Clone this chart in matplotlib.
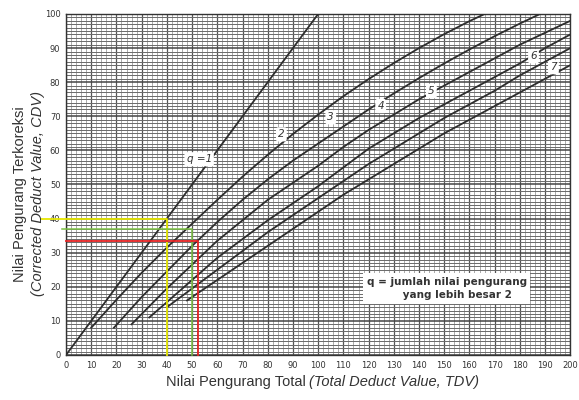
import numpy as np
import matplotlib.pyplot as plt
from matplotlib.ticker import MultipleLocator

# curve readings (TDV, CDV) for each q
q1_x = [0, 100]
q1_y = [0, 100]

q2_x = [10, 20, 30, 40, 50, 60, 70, 80, 90, 100, 110, 120, 130, 140, 150, 160, 166]
q2_y = [8, 16.2, 24.1, 31.5, 38.5, 45.5, 52.3, 58.7, 64.8, 70.5, 75.9, 80.9, 85.6, 90, 94.1, 97.9, 100]

q3_x = [19, 30, 40, 50, 60, 70, 80, 90, 100, 110, 120, 130, 140, 150, 160, 170, 180, 188]
q3_y = [8, 17, 24.5, 32, 39, 45.5, 51.5, 57, 62, 67, 72, 76.7, 81.2, 85.5, 89.6, 93.5, 97.2, 100]

q4_x = [26, 30, 40, 50, 60, 70, 80, 90, 100, 110, 120, 130, 140, 150, 160, 170, 180, 190, 200]
q4_y = [9, 12, 19.5, 26.5, 33.5, 39.5, 45.5, 50.5, 55.5, 61, 66, 70.5, 75, 79, 83, 87, 91, 94.5, 98]

q5_x = [33, 40, 50, 60, 70, 80, 90, 100, 110, 120, 130, 140, 150, 160, 170, 180, 190, 200]
q5_y = [11, 15.5, 22, 28.5, 34, 39.5, 44.5, 49.5, 55, 60.5, 65, 69.5, 73.5, 77.5, 81.5, 85.5, 90, 94]

q6_x = [40, 50, 60, 70, 80, 90, 100, 110, 120, 130, 140, 150, 160, 170, 180, 190, 200]
q6_y = [14, 19.5, 25, 30.5, 36, 41, 46, 51, 56, 60.5, 65, 69.5, 73.5, 77.5, 82, 86, 90]

q7_x = [48, 60, 70, 80, 90, 100, 110, 120, 130, 140, 150, 160, 170, 180, 190, 200]
q7_y = [16, 22, 27, 32, 37, 42, 47, 51.5, 56, 60.5, 65, 69, 73, 77, 81, 85]

curves = [(q1_x, q1_y), (q2_x, q2_y), (q3_x, q3_y), (q4_x, q4_y),
          (q5_x, q5_y), (q6_x, q6_y), (q7_x, q7_y)]

curve_labels = ['q =1', '2', '3', '4', '5', '6', '7']
label_x = [52.8, 85.4, 105, 124.8, 144.9, 185.4, 193.3]
label_y = [57.4, 64.7, 69.7, 73, 77.4, 87.6, 84.4]

# reading lines (TDV, CDV)
yellow_pt = (40, 40)
green_pt = (50, 37)
red_pt = (52.5, 33.5)

fig = plt.figure(figsize=(5.79, 4), dpi=100)
ax = fig.add_axes([0.114, 0.1125, 0.871, 0.8525])

ax.set_xlim(0, 200)
ax.set_ylim(0, 100)
ax.xaxis.set_major_locator(MultipleLocator(10))
ax.yaxis.set_major_locator(MultipleLocator(10))
ax.xaxis.set_minor_locator(MultipleLocator(2))
ax.yaxis.set_minor_locator(MultipleLocator(1))

# graph paper grid
ax.grid(which='minor', axis='x', color='#8a8a8a', lw=0.5)
ax.grid(which='minor', axis='y', color='#6a6a6a', lw=0.7)
ax.grid(which='major', axis='x', color='#555555', lw=0.9)
ax.grid(which='major', axis='y', color='#444444', lw=1.1)
ax.set_axisbelow(True)

for cx, cy in curves:
    ax.plot(cx, cy, color='#2e2e2e', lw=1.3, zorder=3)

for t, lx, ly in zip(curve_labels, label_x, label_y):
    ax.text(lx, ly, t, fontsize=7.5, color='#333333', ha='center', va='center',
            style='italic', zorder=5,
            bbox=dict(boxstyle='round,pad=0.2', fc='white', ec='none'))

ax.text(151, 19.5, 'q = jumlah nilai pengurang\n      yang lebih besar 2',
        fontsize=7.5, fontweight='bold', color='#333333', ha='center', va='center',
        family='Liberation Sans Narrow', zorder=5, linespacing=1.4,
        bbox=dict(boxstyle='square,pad=0.35', fc='white', ec='none'))

# reading lines
ax.plot([-10, yellow_pt[0], yellow_pt[0]], [yellow_pt[1], yellow_pt[1], 0],
        color='#e6e600', lw=1.3, zorder=4, clip_on=False)
ax.plot([-1.5, green_pt[0], green_pt[0]], [green_pt[1], green_pt[1], 0],
        color='#7cc242', lw=1.1, zorder=4, clip_on=False)
ax.plot([0, red_pt[0], red_pt[0]], [red_pt[1], red_pt[1], 0],
        color='#e52222', lw=1.3, zorder=4, clip_on=False)

ax.tick_params(which='both', length=0, labelsize=6, colors='#333333', pad=4)
for s in ax.spines.values():
    s.set_color('#333333')
    s.set_linewidth(1.0)

fig.text(0.528, 0.045, 'Nilai Pengurang Total', ha='right', va='center',
         fontsize=10.5, color='#333333', family='Liberation Sans')
fig.text(0.534, 0.045, '(Total Deduct Value, TDV)', ha='left', va='center',
         fontsize=10.5, color='#333333', family='Liberation Sans', style='italic')

fig.text(0.034, 0.515, 'Nilai Pengurang Terkoreksi', rotation=90, ha='center',
         va='center', fontsize=10.5, color='#333333', family='Liberation Sans')
fig.text(0.066, 0.515, '(Corrected Deduct Value, CDV)', rotation=90, ha='center',
         va='center', fontsize=10.5, color='#333333', family='Liberation Sans',
         style='italic')

fig.savefig('out.png', dpi=100)
